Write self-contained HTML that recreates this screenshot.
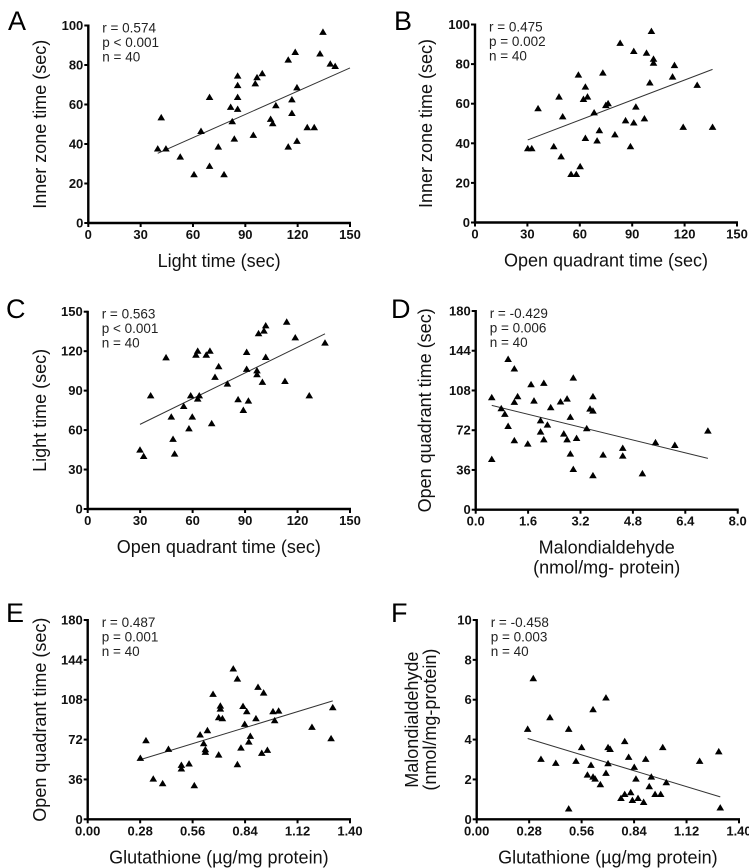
<!DOCTYPE html>
<html><head><meta charset="utf-8">
<style>
html,body{margin:0;padding:0;background:#fff;}
svg{display:block;font-family:"Liberation Sans",Arial,sans-serif;}
.tick{font-weight:bold;font-size:13px;fill:#111;}
.title{font-size:18px;fill:#111;}
.stat{font-size:13.5px;fill:#222;}
.letter{font-size:27px;fill:#000;}
</style></head>
<body>
<svg id="fig" width="749" height="868" viewBox="0 0 749 868"></svg>
<script>
// Panel A
const aX=[39.8,41.8,44.5,52.7,60.6,64.6,69.5,69.5,74.5,77.8,81.6,82.5,83.7,85.6,85.6,85.6,85.6,94.6,95.7,96.7,99.7,104.5,105.7,107.5,114.6,114.6,116.7,116.7,118.6,119.6,119.6,125.5,129.5,132.8,134.5,138.7,141.5];
const aY=[37.5,53.3,37.5,33.4,24.5,46.4,63.6,28.7,38.5,24.5,58.6,51.3,42.5,74.4,69.6,63.6,57.6,44.4,70.5,73.6,75.6,52.5,50.3,59.4,82.5,38.5,62.4,55.5,86.4,68.5,41.4,48.3,48.3,85.6,96.6,80.5,79.3];
// Panel B
const bX=[30.2,32.5,36.1,45.1,48.1,49.3,50.2,55,58,60.2,59.2,62.1,63.2,63.2,64.4,68.2,69.9,71.2,73.2,74.9,76.2,80.1,83.1,86.2,89,90.9,90.9,92.1,97,98.2,100.1,101,102.2,102.2,113.1,114.2,119.2,127.2,136];
const bY=[37.3,37.3,57.5,38.3,63.4,33.2,53.4,24.3,24.3,28.2,74.5,62.2,68.4,42.5,63.4,55.4,41.2,46.4,75.5,59.1,60,44.3,90.5,51.4,38.3,86.4,50.3,58.3,52.4,85.5,70.5,96.5,82.5,80.5,73.5,79.3,48.1,69.3,48.1];
// Panel C
const cX=[29.9,32,36,44.8,47.8,48.8,49.7,54.9,57.9,58.9,59.8,61.9,62.9,62.9,63.8,67.8,69.9,70.9,72.8,74.9,79.9,86,89,90.9,90.9,91.9,96.8,96.8,97.7,99.9,100.8,101.8,101.8,112.8,113.8,118.7,126.7,135.7];
const cY=[44.8,40,86.1,115,69.9,53,41.8,78,61,86.1,69.9,117,120,83.6,86.1,117,120,64.9,100.1,108.2,95,83.1,75,119.1,106.2,82.1,105.1,102.1,133.3,96.3,135.3,139.3,115.3,97,142.1,130.2,86.1,126.2];
// Panel D
const dX=[0.49,0.49,0.78,0.89,0.99,0.99,1.18,1.18,1.18,1.28,1.59,1.69,1.78,1.98,1.98,2.08,2.08,2.19,2.29,2.59,2.69,2.79,2.79,2.89,2.89,2.98,2.98,3.08,3.39,3.49,3.58,3.58,3.58,3.89,4.49,4.49,5.09,5.49,6.08,7.09];
const dY=[45.6,101.5,91.5,86.4,136.2,75.5,127.5,97.3,62.5,102.4,59.5,113.3,98.5,80.6,70.4,114.5,63.4,76.7,92.4,97.6,68.6,100.3,63.4,83.7,50.4,119.3,36.5,64.6,73.4,91.2,89.4,102.4,30.8,49.5,55.6,48.6,32.6,60.7,58.3,71.3];
// Panel E
const eX=[0.281,0.311,0.350,0.400,0.431,0.500,0.500,0.541,0.569,0.600,0.619,0.628,0.628,0.639,0.669,0.699,0.699,0.708,0.708,0.719,0.777,0.799,0.799,0.818,0.829,0.838,0.849,0.860,0.868,0.898,0.909,0.929,0.939,0.959,0.989,0.998,1.019,1.197,1.299,1.308];
const eY=[55.1,71,36.4,32.2,63.2,48.8,45.5,50,30.4,76.2,68.3,62.9,60.5,80.1,112.9,91.8,58.1,102.3,99.6,90.9,135.8,126.7,49.4,64.4,102,85.8,97.2,69.8,75,90.9,119.2,59.6,114.1,62.3,97.2,89.1,97.8,83.1,72.8,100.8];
// Panel F
const fX=[0.272,0.302,0.343,0.422,0.391,0.491,0.491,0.530,0.560,0.591,0.610,0.621,0.621,0.632,0.660,0.690,0.690,0.701,0.701,0.712,0.770,0.790,0.790,0.811,0.822,0.831,0.841,0.850,0.861,0.891,0.902,0.921,0.932,0.952,0.982,0.993,1.012,1.19,1.292,1.300];
const fY=[4.52,7.06,3.01,2.81,5.1,4.52,0.52,2.91,3.6,2.22,2.71,5.5,2.12,2.02,1.74,2.31,6.09,2.79,3.6,3.51,1.05,1.25,3.9,3.11,1.34,0.95,2.61,2.02,1.05,0.85,3.01,1.64,2.12,1.25,1.25,3.6,1.84,2.91,3.39,0.57];
// Tick labels
const ticksA=["0","20","40","60","80","100"];
const ticksB=ticksA;
const ticks150=["0","30","60","90","120","150"];
const ticks180=["0","36","72","108","144","180"];
const ticksMda=["0.0","1.6","3.2","4.8","6.4","8.0"];
const ticksGsh=["0.00","0.28","0.56","0.84","1.12","1.40"];
const ticksF=["0","2","4","6","8","10"];
const statsA=["r = 0.574","p < 0.001","n = 40"];
const statsB=["r = 0.475","p = 0.002","n = 40"];
const statsC=["r = 0.563","p < 0.001","n = 40"];
const statsD=["r = -0.429","p = 0.006","n = 40"];
const statsE=["r = 0.487","p = 0.001","n = 40"];
const statsF=["r = -0.458","p = 0.003","n = 40"];

const NS="http://www.w3.org/2000/svg";
const svg=document.getElementById('fig');
function mk(tag,attrs,parent){const e=document.createElementNS(NS,tag);for(const k in attrs)e.setAttribute(k,attrs[k]);(parent||svg).appendChild(e);return e;}

function panel(p){
  const g=mk('g',{});
  
  
  const xmax=p.xt[p.xt.length-1]*1, ymax=p.yt[p.yt.length-1]*1;
  const sx=v=>p.x0+(v/xmax)*(p.x1-p.x0);
  const sy=v=>p.y0-(v/ymax)*(p.y0-p.yt0);
  const L=mk('text',{x:p.lx,y:p.ly,class:'letter'},g);L.textContent=p.id;
  
  
  const ax=mk('path',{d:`M${p.x0},${p.yt0-1}V${p.y0}H${p.x1+1}`,stroke:'#000','stroke-width':2.4,fill:'none'},g);
  
  
  p.yt.forEach(t=>{const y=sy(+t);
    mk('line',{x1:p.x0-4,x2:p.x0,y1:y,y2:y,stroke:'#000','stroke-width':2},g);
    const tx=mk('text',{x:p.x0-5,y:y+4.5,'text-anchor':'end',class:'tick'},g);tx.textContent=t;
    
    });
  p.xt.forEach(t=>{const x=sx(+t);
    mk('line',{x1:x,x2:x,y1:p.y0,y2:p.y0+4,stroke:'#000','stroke-width':2},g);
    const tx=mk('text',{x:x,y:p.y0+16,'text-anchor':'middle',class:'tick'},g);tx.textContent=t;
    
    });
  p.xtitle.forEach((s,i)=>{const t=mk('text',{x:(p.x0+p.x1)/2,y:p.y0+44+i*20,'text-anchor':'middle',class:'title'},g);t.textContent=s;
    
    });
  p.ytitle.forEach((s,i)=>{const cx=p.ytx[i], cy=(p.y0+p.yt0)/2;
    const t=mk('text',{x:cx,y:cy,'text-anchor':'middle',class:'title',transform:`rotate(-90 ${cx} ${cy}) translate(0 6)`},g);t.textContent=s;
    
    });
  p.stats.forEach((s,i)=>{const t=mk('text',{x:p.x0+14,y:p.yt0+7+i*14.5,class:'stat'},g);t.textContent=s;
    
    });
  const n=p.xs.length;let mx=0,my=0;for(let i=0;i<n;i++){mx+=p.xs[i];my+=p.ys[i];}mx/=n;my/=n;
  let sxy=0,sxx=0;for(let i=0;i<n;i++){sxy+=(p.xs[i]-mx)*(p.ys[i]-my);sxx+=(p.xs[i]-mx)**2;}
  const b=sxy/sxx,a=my-b*mx;
  const lx0=Math.min(...p.xs), lx1=p.lineEnd!=null?p.lineEnd:Math.max(...p.xs);
  const ln=mk('line',{x1:sx(lx0),y1:sy(a+b*lx0),x2:sx(lx1),y2:sy(a+b*lx1),stroke:'#333','stroke-width':1},g);
  
  
  for(let i=0;i<n;i++){const x=sx(p.xs[i]),y=sy(p.ys[i]);
    const tri=mk('path',{d:`M${x},${y-3.8}L${x+3.8},${y+2.6}L${x-3.8},${y+2.6}Z`,fill:'#000'},g);
    
    }
}
panel({id:'A',lx:8,ly:30,x0:88.3,x1:350,y0:223,yt0:25.5,xt:ticks150,yt:ticksA,xs:aX,ys:aY,lineEnd:150,
  xtitle:['Light time (sec)'],ytitle:['Inner zone time (sec)'],ytx:[40],stats:statsA});
panel({id:'B',lx:394,ly:30,x0:475,x1:737,y0:222.5,yt0:24.5,xt:ticks150,yt:ticksB,xs:bX,ys:bY,
  xtitle:['Open quadrant time (sec)'],ytitle:['Inner zone time (sec)'],ytx:[426],stats:statsB});
panel({id:'C',lx:6,ly:318,x0:87.7,x1:350,y0:509,yt0:311.7,xt:ticks150,yt:ticks150,xs:cX,ys:cY,
  xtitle:['Open quadrant time (sec)'],ytitle:['Light time (sec)'],ytx:[40],stats:statsC});
panel({id:'D',lx:391,ly:318,x0:475.7,x1:737.7,y0:509.7,yt0:311,xt:ticksMda,yt:ticks180,xs:dX,ys:dY,
  xtitle:['Malondialdehyde','(nmol/mg- protein)'],ytitle:['Open quadrant time (sec)'],ytx:[425],stats:statsD});
panel({id:'E',lx:6,ly:622,x0:87.7,x1:350,y0:819.3,yt0:620,xt:ticksGsh,yt:ticks180,xs:eX,ys:eY,
  xtitle:['Glutathione (\u00b5g/mg protein)'],ytitle:['Open quadrant time (sec)'],ytx:[40],stats:statsE});
panel({id:'F',lx:391,ly:622,x0:476.7,x1:739,y0:819.3,yt0:620,xt:ticksGsh,yt:ticksF,xs:fX,ys:fY,
  xtitle:['Glutathione (\u00b5g/mg protein)'],ytitle:['Malondialdehyde','(nmol/mg-protein)'],ytx:[412,430],stats:statsF});
</script>
</body></html>
